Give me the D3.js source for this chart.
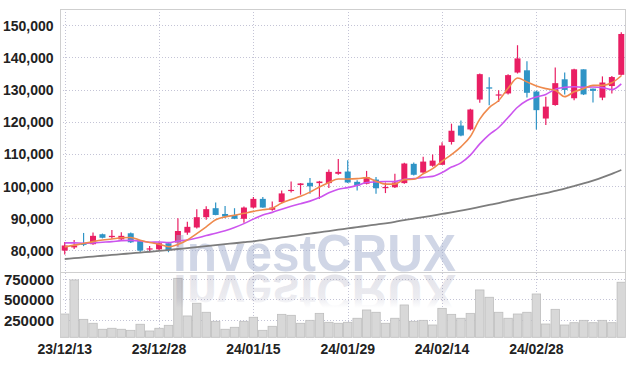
<!DOCTYPE html>
<html><head><meta charset="utf-8">
<script src="https://cdn.jsdelivr.net/npm/d3@7/dist/d3.min.js"></script>
<style>body{margin:0;background:#fff}svg{display:block}</style>
</head><body>
<svg id="c" width="634" height="366"></svg>
<script>
const dates = ["23/12/13","23/12/14","23/12/15","23/12/18","23/12/19","23/12/20","23/12/21","23/12/22","23/12/26","23/12/27","23/12/28",
"24/01/02","24/01/03","24/01/04","24/01/05","24/01/08","24/01/09","24/01/10","24/01/11","24/01/12","24/01/15",
"24/01/16","24/01/17","24/01/18","24/01/19","24/01/22","24/01/23","24/01/24","24/01/25","24/01/26","24/01/29",
"24/01/30","24/01/31","24/02/01","24/02/02","24/02/05","24/02/06","24/02/07","24/02/08","24/02/13","24/02/14",
"24/02/15","24/02/16","24/02/19","24/02/20","24/02/21","24/02/22","24/02/23","24/02/26","24/02/27","24/02/28",
"24/02/29","24/03/04","24/03/05","24/03/06","24/03/07","24/03/08","24/03/11","24/03/12","24/03/13"];
const open = [79900,80900,82200,81900,85000,84100,83400,85300,83000,80300,80300,82200,82400,85500,87100,90300,93100,91300,91000,89800,93300,96000,92600,95000,98500,100300,101000,100900,100900,103800,104500,101300,100700,102000,99400,99600,100900,106900,104200,106300,106600,113700,118800,117600,126900,130700,128200,128800,135300,136000,129400,121000,125200,133200,127300,136300,130300,127500,131100,134600];
const high = [82600,83200,85400,85500,85200,86300,85600,85500,83200,81300,82700,82400,90000,88900,92800,93700,94900,93800,93100,93600,96600,96600,95200,98600,101400,100900,102500,101600,105100,108400,108000,101800,104700,102800,101100,103800,107200,107300,109100,109800,113600,119400,120400,124000,135000,133800,129800,134800,143800,138800,129600,127800,136900,135300,136500,136300,130300,134100,134200,147800];
const low = [78700,80400,81300,81700,83700,83600,83200,82300,79400,79400,80100,79400,81100,84800,86800,89500,90900,90000,89700,88600,93000,93200,92300,94800,98000,97300,97600,96000,99400,103500,100900,98600,100500,97600,97800,99400,100700,103300,104000,106000,106600,112900,115500,117300,125900,125100,126100,128500,135000,127500,117600,119000,125000,128500,126700,128300,126000,126700,128800,134400];
const close = [81500,81500,81700,84500,83900,84500,84500,82500,79900,80600,82200,80100,86000,87300,90300,92800,91000,90500,89800,93300,96000,93300,93300,97700,98800,100800,99900,101400,104400,104400,101100,100100,102800,99300,99700,101100,107000,103500,107600,107900,112600,117200,115700,123800,134800,130300,128500,134500,139700,129000,123600,124700,132000,129900,136300,128500,129600,132200,133900,147300];
const volume = [323000,738000,258000,210000,137000,149000,137000,124000,198000,116000,149000,185000,758000,299000,454000,344000,234000,137000,161000,234000,283000,124000,173000,319000,307000,210000,246000,331000,222000,210000,222000,271000,372000,344000,210000,271000,433000,234000,246000,189000,392000,319000,271000,331000,616000,527000,344000,271000,323000,344000,567000,201000,380000,189000,217000,246000,217000,246000,217000,710000];
const ma5 = [81000,81600,82100,82700,83200,83500,83900,84000,83100,82400,81900,81100,81800,83200,85200,87300,89500,90400,90900,91500,92100,92600,93100,94700,95800,96800,98100,99700,101100,102200,102200,102300,102600,101500,100600,100600,102000,102100,103800,105400,107700,109800,112200,115400,120800,124400,126600,130400,133600,132400,131100,130300,129800,127800,129300,130300,131300,131300,132100,134300];
const ma10 = [82300,82300,82200,82300,82500,82700,83000,83100,82900,82500,82600,82400,82900,83200,83800,84600,85300,86100,87100,88300,89700,91000,91800,92800,93700,94500,95300,96400,97900,99000,99500,100200,101100,101300,101400,101400,102100,102300,102700,103000,104200,105900,107200,109600,113100,116000,118200,121300,124500,126600,127700,128500,130100,130700,130900,130700,130800,130600,130000,131800];
const ma120 = [77300,77550,77800,78050,78300,78550,78800,79050,79300,79550,79800,80100,80400,80700,81000,81300,81600,81900,82200,82500,82800,83200,83600,84000,84400,84800,85200,85600,86000,86400,86800,87200,87600,88000,88400,88850,89400,89850,90300,90800,91300,91800,92350,92900,93500,94100,94700,95400,96000,96600,97200,97800,98500,99200,100000,100800,101700,102700,103800,105000];
const priceTicks = [80000,90000,100000,110000,120000,130000,140000,150000];
const volumeTicks = [250000,500000,750000];
const dateTickLabels = ["23/12/13","23/12/28","24/01/15","24/01/29","24/02/14","24/02/28"];

const L = 60, R = 626, T = 9, MID = 272, B = 337.3;
const UP = "#e91e63", DOWN = "#2f94c6";
const FONT = "'Liberation Sans Narrow','Liberation Sans',Arial,sans-serif";

const svg = d3.select("#c");
const x = d3.scaleBand().domain(dates).range([L, R]).padding(0);
const bw = x.bandwidth();
const cx = d => x(d) + bw / 2;
const y = d3.scaleLinear().domain([73250, 155070]).range([MID, T]);
const yv = d3.scaleLinear().domain([39000, 835000]).range([B, MID]);

const grid = svg.append("g").attr("stroke", "#c4c4d6").attr("stroke-width", 1).attr("stroke-dasharray", "1,2");
grid.selectAll(".hp").data(priceTicks).join("line")
  .attr("x1", L).attr("x2", R).attr("y1", d => Math.round(y(d)) + 0.5).attr("y2", d => Math.round(y(d)) + 0.5);
grid.selectAll(".hv").data(volumeTicks).join("line").attr("class", "hv")
  .attr("x1", L).attr("x2", R).attr("y1", d => Math.round(yv(d)) + 0.5).attr("y2", d => Math.round(yv(d)) + 0.5);
grid.selectAll(".vx").data(dateTickLabels).join("line").attr("class", "vx")
  .attr("x1", d => Math.round(cx(d)) + 0.5).attr("x2", d => Math.round(cx(d)) + 0.5).attr("y1", T).attr("y2", B);

// volume bars
svg.append("g").selectAll("rect").data(dates).join("rect")
  .attr("x", d => x(d) + 0.5).attr("width", bw - 1)
  .attr("y", (d, i) => yv(volume[i])).attr("height", (d, i) => B - yv(volume[i]))
  .attr("fill", "#d8d8d8").attr("stroke", "#bdbdbd").attr("stroke-width", 0.8);

// candles
const cg = svg.append("g");
dates.forEach((d, i) => {
  const col = close[i] >= open[i] ? UP : DOWN;
  const c = cx(d);
  cg.append("line").attr("x1", c).attr("x2", c).attr("y1", y(high[i])).attr("y2", y(low[i]))
    .attr("stroke", col).attr("stroke-width", 1.2);
  const y0 = y(Math.max(open[i], close[i])), y1 = y(Math.min(open[i], close[i]));
  cg.append("rect").attr("x", c - 3).attr("width", 6).attr("y", y0).attr("height", Math.max(1.2, y1 - y0))
    .attr("fill", col);
});

// watermark
const defs = svg.append("defs");
defs.append("clipPath").attr("id", "vclip").append("rect").attr("x", L).attr("y", MID + 1).attr("width", R - L).attr("height", B - MID);
const gr2 = defs.append("linearGradient").attr("id", "fadeR").attr("gradientUnits", "userSpaceOnUse")
  .attr("x1", 0).attr("x2", 0).attr("y1", 272.6).attr("y2", 238.6);
gr2.append("stop").attr("offset", 0).attr("stop-color", "#50507a").attr("stop-opacity", 0.16);
gr2.append("stop").attr("offset", 0.7).attr("stop-color", "#50507a").attr("stop-opacity", 0.11);
gr2.append("stop").attr("offset", 1).attr("stop-color", "#50507a").attr("stop-opacity", 0);
svg.append("text").attr("x", 173).attr("y", 271.3).text("InvestCRUX")
  .attr("font-family", "'Liberation Sans',Arial,sans-serif").attr("font-weight", "bold").attr("font-size", 52)
  .attr("textLength", 283).attr("lengthAdjust", "spacingAndGlyphs")
  .attr("fill", "#a1adcd").attr("fill-opacity", 0.5);
svg.append("g").attr("clip-path", "url(#vclip)").append("text")
  .attr("x", 173).attr("y", 271.3).text("InvestCRUX")
  .attr("transform", "translate(0,546.6) scale(1,-1)")
  .attr("font-family", "'Liberation Sans',Arial,sans-serif").attr("font-weight", "bold").attr("font-size", 52)
  .attr("textLength", 283).attr("lengthAdjust", "spacingAndGlyphs")
  .attr("fill", "url(#fadeR)");

// MA lines
const lineGen = arr => d3.line().x((d, i) => cx(dates[i])).y(d => y(d)).curve(d3.curveMonotoneX)(arr);
svg.append("path").attr("d", lineGen(ma120)).attr("fill", "none").attr("stroke", "#7d7d7d").attr("stroke-width", 1.8);
svg.append("path").attr("d", lineGen(ma10)).attr("fill", "none").attr("stroke", "#cc55ee").attr("stroke-width", 1.6);
svg.append("path").attr("d", lineGen(ma5)).attr("fill", "none").attr("stroke", "#ef8a4d").attr("stroke-width", 1.6);

// borders
const bd = svg.append("g").attr("stroke", "#cfcfcf").attr("stroke-width", 1).attr("fill", "none");
bd.append("line").attr("x1", L).attr("x2", R).attr("y1", T + 0.5).attr("y2", T + 0.5);
bd.append("line").attr("x1", L).attr("x2", R).attr("y1", MID + 0.5).attr("y2", MID + 0.5);
bd.append("line").attr("x1", L + 0.5).attr("x2", L + 0.5).attr("y1", T).attr("y2", B);
bd.append("line").attr("x1", R - 0.5).attr("x2", R - 0.5).attr("y1", T).attr("y2", B);

// labels
const fmt = d3.format(",");
svg.append("g").selectAll("text").data(priceTicks).join("text")
  .attr("x", 53.5).attr("y", d => y(d) + 5.5).attr("text-anchor", "end").text(d => fmt(d))
  .attr("font-family", FONT).attr("font-weight", "bold").attr("font-size", 14).attr("fill", "#222");
svg.append("g").selectAll("text").data(volumeTicks).join("text")
  .attr("x", 54).attr("y", d => yv(d) + 6).attr("text-anchor", "end").text(d => String(d))
  .attr("font-family", FONT).attr("font-weight", "bold").attr("font-size", 15).attr("fill", "#222");
svg.append("g").selectAll("text").data(dateTickLabels).join("text")
  .attr("x", d => cx(d)).attr("y", 354).attr("text-anchor", "middle").text(d => d)
  .attr("font-family", FONT).attr("font-weight", "bold").attr("font-size", 14).attr("fill", "#222");
</script>
</body></html>
